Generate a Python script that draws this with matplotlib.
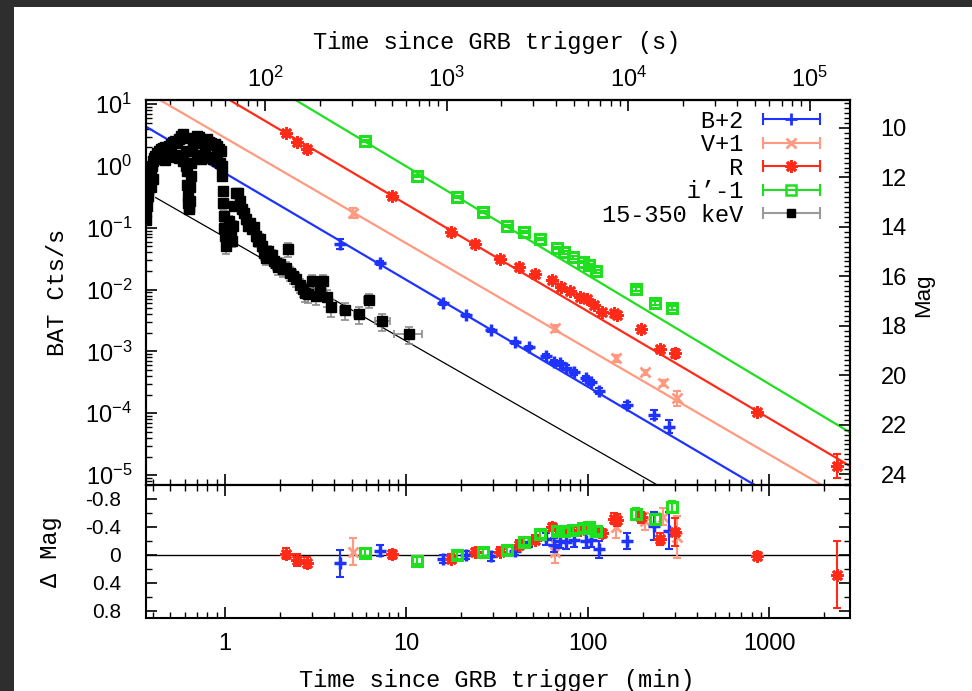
import numpy as np
import matplotlib
matplotlib.use("Agg")
import matplotlib.pyplot as plt
from matplotlib.lines import Line2D
from matplotlib.patches import Rectangle
from matplotlib.legend_handler import HandlerLine2D
from matplotlib.ticker import LogLocator, MultipleLocator, FuncFormatter, NullFormatter, FixedLocator

MONO = "Liberation Mono"
SANS = "Liberation Sans"
plt.rcParams["font.family"] = SANS
plt.rcParams["font.size"] = 17
plt.rcParams["mathtext.default"] = "regular"
plt.rcParams["axes.unicode_minus"] = False

# BAT 15-350 keV light curve: time since trigger (min), count rate (cts/s)
bat_t = [0.366, 0.368, 0.371, 0.373, 0.376, 0.378, 0.380, 0.383, 0.385, 0.388,
         0.390, 0.392, 0.395, 0.400, 0.403, 0.405, 0.411, 0.421, 0.432, 0.443,
         0.445, 0.454, 0.466, 0.470, 0.478, 0.490, 0.500, 0.503, 0.516, 0.529,
         0.530, 0.543, 0.557, 0.560, 0.571, 0.586, 0.590, 0.601, 0.609, 0.610,
         0.617, 0.620, 0.625, 0.628, 0.633, 0.636, 0.641, 0.645, 0.649, 0.652,
         0.657, 0.666, 0.683, 0.700, 0.705, 0.718, 0.737, 0.740, 0.756, 0.775,
         0.780, 0.795, 0.816, 0.820, 0.837, 0.858, 0.860, 0.881, 0.900, 0.903,
         0.927, 0.940, 0.950, 0.963, 0.968,
         0.975, 0.980, 0.987, 0.993, 1.000, 1.013, 1.026, 1.039, 1.052, 1.066,
         1.079, 1.093, 1.107, 1.121, 1.150, 1.180, 1.210, 1.241, 1.273, 1.306,
         1.340, 1.374, 1.410, 1.446, 1.483, 1.522, 1.561, 1.601, 1.643, 1.685,
         1.729, 1.773, 1.819, 1.866, 1.914, 1.963, 2.014, 2.091, 2.173, 2.229,
         2.286, 2.375, 2.468, 2.596, 2.697, 2.767, 2.874, 3.025, 3.183, 3.349,
         3.478, 3.660, 3.851, 4.603, 5.500, 6.247, 7.369, 10.39]
bat_rate = [0.133, 0.18, 0.225, 0.30, 0.327, 0.40, 0.474, 0.55, 0.616, 0.75,
            0.830, 0.45, 1.0, 1.205, 0.62, 1.348, 1.452, 1.624, 1.750, 1.887,
            1.30, 1.959, 2.032, 1.25, 1.887, 2.109, 1.40, 2.273, 2.448, 2.541,
            1.50, 2.360, 2.739, 1.35, 3.063, 3.302, 1.20, 2.843, 1.750, 1.00,
            0.830, 0.50, 0.327, 0.25, 0.201, 0.22, 0.271, 0.45, 0.689, 1.10,
            1.750, 2.541, 2.843, 3.063, 1.50, 2.951, 2.637, 1.30, 2.360, 2.541,
            1.60, 2.739, 2.448, 1.40, 2.360, 2.189, 1.30, 2.273, 1.20, 2.109,
            1.887, 1.10, 1.750, 1.0, 0.70,
            0.394, 0.25, 0.155, 0.10, 0.0733, 0.0505, 0.0609, 0.0885, 0.128, 0.1066,
            0.0733, 0.0609, 0.1066, 0.225, 0.365, 0.365, 0.271, 0.201, 0.173, 0.138,
            0.107, 0.119, 0.0953, 0.1026, 0.0733, 0.0609, 0.0656, 0.0505, 0.0389, 0.0323,
            0.0419, 0.0348, 0.0361, 0.0289, 0.0268, 0.0231, 0.0258, 0.0214, 0.0222, 0.0452,
            0.0185, 0.0165, 0.0147, 0.0118, 0.0101, 0.00875, 0.00842, 0.0137, 0.00782, 0.00942,
            0.0137, 0.00753, 0.00519, 0.00464, 0.00399, 0.00673, 0.00308, 0.00189]
# relative errors: 75 bright-phase bins, then the decay
bat_relerr = ([0.12] * 75 +
              [0.15, 0.18, 0.2, 0.22, 0.25, 0.25, 0.25, 0.2, 0.2, 0.2,
               0.2, 0.2, 0.2, 0.15, 0.12, 0.12, 0.15, 0.15, 0.15, 0.18,
               0.18, 0.18, 0.18, 0.18, 0.2, 0.2, 0.2, 0.2, 0.22, 0.22,
               0.22, 0.22, 0.22, 0.22, 0.22, 0.25, 0.25, 0.25, 0.25, 0.25,
               0.25, 0.25, 0.25, 0.25, 0.25, 0.28, 0.28, 0.25, 0.28, 0.28,
               0.25, 0.3, 0.3, 0.3, 0.3, 0.25, 0.3, 0.3])
# half bin widths (min) of the binned tail (last 16 points)
bat_terr_tail = [0.05, 0.05, 0.05, 0.05, 0.06, 0.07, 0.08, 0.08, 0.09, 0.15,
                 0.2, 0.3, 0.35, 0.4, 0.7, 1.8]

# optical photometry (time in min, offset magnitude, error, fit residual)
b_t = [4.32, 7.18, 15.8, 21.4, 29.1, 39.5, 47.2, 58.6, 64.9, 70.0, 75.5, 83.7,
       97.5, 104, 115, 164, 232, 281]
b_mag = [14.70, 15.47, 17.09, 17.58, 18.19, 18.67, 18.87, 19.24, 19.48, 19.52,
         19.69, 19.89, 20.13, 20.29, 20.62, 21.22, 21.59, 22.08]
b_err = [0.19, 0.08, 0.06, 0.06, 0.06, 0.06, 0.06, 0.08, 0.1, 0.1, 0.1, 0.1,
         0.1, 0.1, 0.12, 0.12, 0.2, 0.27]
b_res = [0.12, -0.06, 0.06, 0.0, 0.02, -0.06, -0.18, -0.23, -0.14, -0.20,
         -0.18, -0.22, -0.20, -0.22, -0.08, -0.20, -0.42, -0.35]

v_t = [5.10, 65.7, 143, 207, 259, 310]
v_mag = [13.44, 18.10, 19.32, 19.89, 20.33, 20.94]
v_err = [0.19, 0.15, 0.15, 0.12, 0.12, 0.30]
v_res = [-0.05, -0.04, -0.40, -0.48, -0.55, -0.26]

r_t = [2.17, 2.50, 2.84, 8.37, 17.5, 23.8, 32.7, 41.6, 51.0, 63.2, 71.0, 79.6,
       90.3, 98.7, 108, 119, 139, 145, 196, 250, 303, 859, 2345]
r_mag = [10.20, 10.57, 10.85, 12.76, 14.21, 14.70, 15.31, 15.63, 15.92, 16.16,
         16.44, 16.61, 16.85, 16.93, 17.17, 17.46, 17.50, 17.58, 18.15, 18.92,
         19.12, 21.47, 23.66]
r_err = [0.08, 0.08, 0.08, 0.06, 0.06, 0.06, 0.06, 0.06, 0.06, 0.06, 0.06, 0.06,
         0.06, 0.06, 0.06, 0.06, 0.08, 0.08, 0.08, 0.08, 0.20, 0.06, 0.48]
r_res = [-0.02, 0.07, 0.11, -0.01, 0.05, -0.04, -0.05, -0.15, -0.22, -0.40,
         -0.34, -0.36, -0.36, -0.40, -0.36, -0.31, -0.52, -0.50, -0.54, -0.23,
         -0.33, 0.01, 0.28]

i_t = [5.94, 11.5, 19.1, 26.3, 35.7, 44.3, 54.3, 67.4, 73.7, 82.6, 93.8, 101,
       111, 184, 235, 291]
i_mag = [10.53, 11.95, 12.80, 13.40, 13.97, 14.21, 14.50, 14.86, 15.03, 15.23,
         15.43, 15.55, 15.80, 16.52, 17.09, 17.29]
i_err = [0.05, 0.05, 0.05, 0.05, 0.05, 0.05, 0.05, 0.05, 0.05, 0.05, 0.05, 0.05,
         0.05, 0.08, 0.08, 0.08]
i_res = [-0.03, 0.08, 0.0, -0.04, -0.07, -0.19, -0.30, -0.35, -0.34, -0.36,
         -0.38, -0.40, -0.35, -0.59, -0.51, -0.69]

# power-law fits: mag = m0 + k*log10(t/min); BAT: log10(rate) = a + s*log10(t)
fit_b = (11.83, 4.32)
fit_v = (10.40, 4.27)
fit_r = (8.76, 4.33)
fit_i = (7.16, 4.40)
fit_bat = (-1.153, -1.682)
bat_fit_start = 0.415

ZP = 11.54  # mag scale zero point relative to BAT count rate axis
XLIM = (0.367, 2780)
YLIM = (10 ** -5.16, 10 ** 1.068)
rate_ticks = [1e-5, 1e-4, 1e-3, 1e-2, 1e-1, 1e0, 1e1]
mag_ticks = [10, 12, 14, 16, 18, 20, 22, 24]


def mag2flux(m):
    return 10 ** ((ZP - np.asarray(m, float)) / 2.5)


fig = plt.figure(figsize=(9.72, 6.91), dpi=100)
fig.patch.set_facecolor("#2e2e2e")
fig.add_artist(Rectangle((14 / 972, 0), 1 - 14 / 972, 1 - 7 / 691,
                         transform=fig.transFigure, facecolor="white",
                         edgecolor="none", zorder=-10))

ax = fig.add_axes([146 / 972, 1 - 485 / 691, 704 / 972, 385 / 691])
axr = fig.add_axes([146 / 972, 1 - 618 / 691, 704 / 972, 133 / 691])

series = [
    ("V+1", v_t, v_mag, v_err, v_res, fit_v, "#ff9a80", "x", 7, 2.0, None),
    ("B+2", b_t, b_mag, b_err, b_res, fit_b, "#1f33ff", "+", 9, 2.5, None),
    ("R", r_t, r_mag, r_err, r_res, fit_r, "#ff2a18", (8, 2, 0), 9, 2.0, None),
    ("i’-1", i_t, i_mag, i_err, i_res, fit_i, "#1fe01f", "s", 7, 2.2, "none"),
]

tl = np.array([0.3, 4000.0])
for name, t, m, e, res, fit, c, mk, ms, mew, mfc in series:
    ax.plot(tl, mag2flux(fit[0] + fit[1] * np.log10(tl)), color=c, lw=1.6, zorder=2)
    m = np.asarray(m)
    e = np.asarray(e)
    f = mag2flux(m)
    yerr = [f - mag2flux(m + e), mag2flux(m - e) - f]
    ax.errorbar(t, f, yerr=yerr, fmt="none", ecolor=c, elinewidth=1.5,
                capsize=3, capthick=1.5, zorder=3)
    ax.plot(t, f, ls="none", marker=mk, ms=ms, mew=mew, color=c,
            mfc=(mfc if mfc else c), zorder=3)
    axr.errorbar(t, res, yerr=e, fmt="none", ecolor=c, elinewidth=1.5,
                 capsize=3, capthick=1.5, zorder=3)
    axr.plot(t, res, ls="none", marker=mk, ms=ms, mew=mew, color=c,
             mfc=(mfc if mfc else c), zorder=3)

# BAT light curve and fit
tb = np.array([bat_fit_start, 4000.0])
ax.plot(tb, 10 ** (fit_bat[0] + fit_bat[1] * np.log10(tb)), color="black", lw=0.9, zorder=2)
bat_rate_a = np.asarray(bat_rate)
bat_yerr = bat_rate_a * np.asarray(bat_relerr)
bat_xerr = np.concatenate([np.zeros(len(bat_t) - len(bat_terr_tail)), bat_terr_tail])
ax.errorbar(bat_t, bat_rate_a, yerr=bat_yerr, xerr=bat_xerr, fmt="none",
            ecolor="#8c8c8c", elinewidth=1.2, capsize=3, capthick=1.2, zorder=4)
ax.plot(bat_t, bat_rate_a, ls="none", marker="s", ms=7.5, color="black", zorder=5)

ax.set_xscale("log")
ax.set_yscale("log")
ax.set_xlim(*XLIM)
ax.set_ylim(*YLIM)
ax.yaxis.set_major_locator(FixedLocator(rate_ticks))
ax.yaxis.set_minor_locator(LogLocator(base=10, subs=np.arange(2, 10), numticks=20))
ax.yaxis.set_minor_formatter(NullFormatter())
ax.tick_params(which="both", direction="in", top=False, right=False, labelbottom=False)
ax.tick_params(which="major", length=8, width=1.2)
ax.tick_params(which="minor", length=4, width=1.0)
ax.tick_params(axis="y", pad=10, labelsize=17)
for s in ax.spines.values():
    s.set_linewidth(1.5)

# magnitude scale on the right
ax2 = ax.twinx()
ax2.set_ylim(ZP - 2.5 * np.log10(YLIM[0]), ZP - 2.5 * np.log10(YLIM[1]))
ax2.yaxis.set_major_locator(FixedLocator(mag_ticks))
ax2.yaxis.set_minor_locator(MultipleLocator(0.2))
ax2.tick_params(which="both", direction="in", pad=22, labelsize=17)
ax2.tick_params(which="major", length=8, width=1.2)
ax2.tick_params(which="minor", length=4, width=1.0)
for s in ax2.spines.values():
    s.set_linewidth(1.5)

# seconds on top
secax = ax.secondary_xaxis("top", functions=(lambda x: x * 60.0, lambda x: x / 60.0))
secax.xaxis.set_major_locator(FixedLocator([1e2, 1e3, 1e4, 1e5]))
secax.xaxis.set_minor_locator(LogLocator(base=10, subs=np.arange(2, 10), numticks=20))
secax.xaxis.set_minor_formatter(NullFormatter())
secax.tick_params(which="both", direction="in", pad=6, labelsize=17)
secax.tick_params(which="major", length=8, width=1.2)
secax.tick_params(which="minor", length=4, width=1.0)
secax.spines["top"].set_linewidth(1.5)

# legend (text first, gnuplot style)
labels = ["B+2", "V+1", "R", "i’-1", "15-350 keV"]
styles = [("#1f33ff", "+", 9, 2.0, None), ("#ff9a80", "x", 7, 2.0, None),
          ("#ff2a18", (8, 2, 0), 9, 2.0, None), ("#1fe01f", "s", 7, 1.8, "none"),
          ("black", "s", 6, 1.0, None)]
handles, hmap = [], {}
for lab, (c, mk, ms, mew, mfc) in zip(labels, styles):
    cc = "#9a9a9a" if lab == "15-350 keV" else c
    cap = Line2D([], [], color=cc, lw=1.5, marker="|", ms=9, mew=1.5)
    pt = Line2D([], [], ls="none", color=c, marker=mk, ms=ms, mew=mew,
                mfc=(mfc if mfc else c))
    hmap[cap] = HandlerLine2D(numpoints=2)
    handles.append((cap, pt))
width = max(len(l) for l in labels)
ax.legend(handles, [l.rjust(width) for l in labels], handler_map=hmap,
          loc="upper right", bbox_to_anchor=(0.967, 0.975), frameon=False,
          markerfirst=False, numpoints=1, prop={"family": MONO, "size": 17},
          handlelength=3.0, handletextpad=0.55, labelspacing=0.02, borderpad=0,
          borderaxespad=0)

# residual panel
axr.axhline(0, color="black", lw=1.0, zorder=1)
axr.set_xscale("log")
axr.set_xlim(*XLIM)
axr.set_ylim(0.9, -1.0)
axr.yaxis.set_major_locator(FixedLocator([-0.8, -0.4, 0.0, 0.4, 0.8]))
axr.yaxis.set_minor_locator(MultipleLocator(0.2))
axr.yaxis.set_major_formatter(FuncFormatter(lambda v, _: "0" if abs(v) < 1e-9 else f"{v:.1f}"))
axr.xaxis.set_major_locator(FixedLocator([1, 10, 100, 1000]))
axr.xaxis.set_minor_locator(LogLocator(base=10, subs=np.arange(2, 10), numticks=20))
axr.xaxis.set_major_formatter(FuncFormatter(lambda v, _: f"{v:g}"))
axr.xaxis.set_minor_formatter(NullFormatter())
axr.tick_params(which="both", direction="in", top=True, right=True)
axr.tick_params(which="major", length=8, width=1.2)
axr.tick_params(which="minor", length=4, width=1.0)
axr.tick_params(axis="x", pad=11, labelsize=17)
axr.tick_params(axis="y", pad=18, labelsize=15)
for s in axr.spines.values():
    s.set_linewidth(1.5)

# axis titles
fig.text(497 / 972, 1 - 42 / 691, "Time since GRB trigger (s)", family=MONO,
         fontsize=17, ha="center", va="center")
fig.text(497 / 972, 1 - 681 / 691, "Time since GRB trigger (min)", family=MONO,
         fontsize=17, ha="center", va="center")
fig.text(58 / 972, 1 - 292 / 691, "BAT Cts/s", family=MONO, fontsize=17,
         rotation=90, ha="center", va="center")
fig.text(50 / 972, 1 - 552 / 691, "Δ Mag", family=MONO, fontsize=17,
         rotation=90, ha="center", va="center")
fig.text(924 / 972, 1 - 295 / 691, "Mag", family=SANS, fontsize=16,
         rotation=90, ha="center", va="center")

fig.savefig("out.png", dpi=100, facecolor=fig.get_facecolor())
